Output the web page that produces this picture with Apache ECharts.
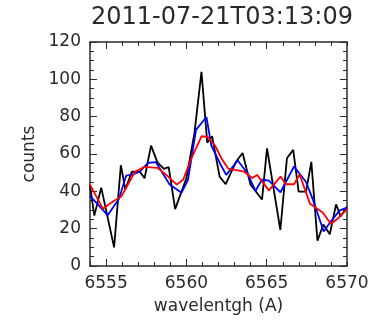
<!DOCTYPE html>
<html>
<head>
<meta charset="utf-8">
<script src="https://cdn.jsdelivr.net/npm/echarts@6/dist/echarts.min.js"></script>
<style>html,body{margin:0;padding:0;background:#fff;}#c{width:373px;height:324px;}</style>
</head>
<body>
<div id="c"></div>
<script>
const titleText = '2011-07-21T03:13:09';
const xName = 'wavelentgh (A)';
const yName = 'counts';
const xTickLabels = [6555, 6560, 6565, 6570];
const xMajorTicks = [6555, 6560, 6565];
const yTickLabels = [0, 20, 40, 60, 80, 100, 120];

const blackWave = [6554.0, 6554.27, 6554.7, 6555.5, 6555.92, 6556.2, 6556.6, 6557.1, 6557.4, 6557.8, 6558.2, 6558.6, 6558.9, 6559.3, 6560.0, 6560.5, 6560.94, 6561.3, 6561.6, 6562.07, 6562.45, 6563.1, 6563.5, 6563.99, 6564.3, 6564.71, 6565.02, 6565.85, 6566.26, 6566.65, 6566.99, 6567.45, 6567.78, 6568.16, 6568.53, 6568.93, 6569.32, 6569.6, 6570.0];
const blackCounts = [43, 27, 42, 10, 54, 41, 50.5, 50.5, 47, 64.5, 55.5, 52, 53, 30.5, 47, 71, 104, 66, 69.5, 47.9, 43.8, 56, 60.5, 43.7, 40.2, 35.6, 63, 19.3, 57.7, 62.2, 39.8, 39.8, 55.8, 13.5, 22.2, 17, 33, 26.5, 31.8];

const blueWave = [6554.0, 6555.1, 6555.8, 6556.25, 6556.56, 6557.1, 6557.6, 6558.1, 6558.96, 6559.7, 6560.1, 6560.6, 6561.25, 6561.56, 6562.1, 6562.48, 6563.2, 6563.8, 6564.3, 6564.7, 6565.14, 6565.86, 6566.7, 6567.45, 6567.9, 6568.55, 6569.0, 6569.55, 6570.0];
const blueCounts = [37.6, 27.2, 35.9, 48.4, 48.8, 50.5, 55.2, 55.7, 43.6, 39.3, 46.2, 72.9, 79.8, 64.3, 54.8, 48.8, 56.5, 49.7, 40.2, 46.2, 45.7, 39.5, 53.3, 45, 35, 18.5, 24, 29.8, 31.3];

const redWave = [6554.0, 6554.8, 6555.5, 6555.94, 6556.8, 6557.4, 6558.2, 6558.75, 6559.4, 6559.8, 6560.3, 6560.94, 6561.35, 6561.8, 6562.2, 6562.6, 6563.6, 6564.1, 6564.4, 6565.14, 6565.86, 6566.2, 6566.7, 6567.05, 6567.7, 6568.5, 6569.0, 6569.5, 6570.0];
const redCounts = [43.6, 30.7, 35.0, 37.1, 50.5, 53.1, 52.6, 48.8, 43.6, 46.2, 57.4, 69.5, 69.1, 64.3, 57.4, 52.2, 50.5, 47.1, 48.8, 40.5, 47.9, 43.8, 43.8, 49, 33.3, 28.5, 22.5, 26, 30.5];

const pairs = (xs, ys) => xs.map((x, i) => [x, ys[i]]);
const ink = '#2a2a2a';
const font = 'DejaVu Sans';
const X_MIN = 6554, X_MAX = 6570;

const chart = echarts.init(document.getElementById('c'), null, {renderer: 'canvas'});

const baseX = {
  type: 'value', min: X_MIN, max: X_MAX, interval: 1, gridIndex: 0,
  splitLine: {show: false}
};
const baseY = {
  type: 'value', min: 0, max: 120, interval: 20, gridIndex: 0,
  splitLine: {show: false}
};

chart.setOption({
  animation: false,
  backgroundColor: '#fff',
  title: {
    text: titleText, left: 217, top: 1, textAlign: 'center',
    textStyle: {fontFamily: font, fontSize: 24, fontWeight: 'normal', color: ink}
  },
  grid: {left: 90, right: 26, top: 42, bottom: 58, containLabel: false},
  xAxis: [
    Object.assign({}, baseX, {
      position: 'bottom',
      axisLine: {show: true, onZero: false, lineStyle: {color: ink, width: 1.5}},
      axisTick: {show: true, inside: true, length: 4, lineStyle: {color: ink, width: 1}},
      axisLabel: {
        show: true, margin: 9, color: ink, fontFamily: font, fontSize: 17,
        hideOverlap: false,
        formatter: v => (xTickLabels.indexOf(v) >= 0 ? String(v) : '')
      },
      name: xName, nameLocation: 'middle', nameGap: 32,
      nameTextStyle: {color: ink, fontFamily: font, fontSize: 17}
    }),
    Object.assign({}, baseX, {
      position: 'bottom',
      axisLine: {show: false, onZero: false},
      axisTick: {show: true, inside: true, length: 7, customValues: xMajorTicks, lineStyle: {color: ink, width: 1}},
      axisLabel: {show: false}
    }),
    Object.assign({}, baseX, {
      position: 'top',
      axisLine: {show: true, onZero: false, lineStyle: {color: ink, width: 1.5}},
      axisTick: {show: true, inside: true, length: 4, lineStyle: {color: ink, width: 1}},
      axisLabel: {show: false}
    }),
    Object.assign({}, baseX, {
      position: 'top',
      axisLine: {show: false, onZero: false},
      axisTick: {show: true, inside: true, length: 7, customValues: xMajorTicks, lineStyle: {color: ink, width: 1}},
      axisLabel: {show: false}
    })
  ],
  yAxis: [
    Object.assign({}, baseY, {
      position: 'left',
      axisLine: {show: true, onZero: false, lineStyle: {color: ink, width: 1.5}},
      axisTick: {show: true, inside: true, length: 7, lineStyle: {color: ink, width: 1}},
      minorTick: {show: true, splitNumber: 4, length: 4, lineStyle: {color: ink, width: 1}},
      axisLabel: {show: true, margin: 9, color: ink, fontFamily: font, fontSize: 17,
        formatter: v => (yTickLabels.indexOf(v) >= 0 ? String(v) : '')},
      name: yName, nameLocation: 'middle', nameGap: 52,
      nameTextStyle: {color: ink, fontFamily: font, fontSize: 17}
    }),
    Object.assign({}, baseY, {
      position: 'right',
      axisLine: {show: true, onZero: false, lineStyle: {color: ink, width: 1.5}},
      axisTick: {show: true, inside: true, length: 7, lineStyle: {color: ink, width: 1}},
      minorTick: {show: true, splitNumber: 4, length: 4, lineStyle: {color: ink, width: 1}},
      axisLabel: {show: false}
    })
  ],
  series: [
    {type: 'line', name: 'raw', xAxisIndex: 0, yAxisIndex: 0, data: pairs(blackWave, blackCounts),
     showSymbol: false, symbol: 'none', lineStyle: {color: '#000', width: 1.8}, z: 2},
    {type: 'line', name: 'smooth1', xAxisIndex: 0, yAxisIndex: 0, data: pairs(blueWave, blueCounts),
     showSymbol: false, symbol: 'none', lineStyle: {color: '#0000ff', width: 1.8}, z: 3},
    {type: 'line', name: 'smooth2', xAxisIndex: 0, yAxisIndex: 0, data: pairs(redWave, redCounts),
     showSymbol: false, symbol: 'none', lineStyle: {color: '#ff0000', width: 1.8}, z: 4}
  ]
});
</script>
</body>
</html>
